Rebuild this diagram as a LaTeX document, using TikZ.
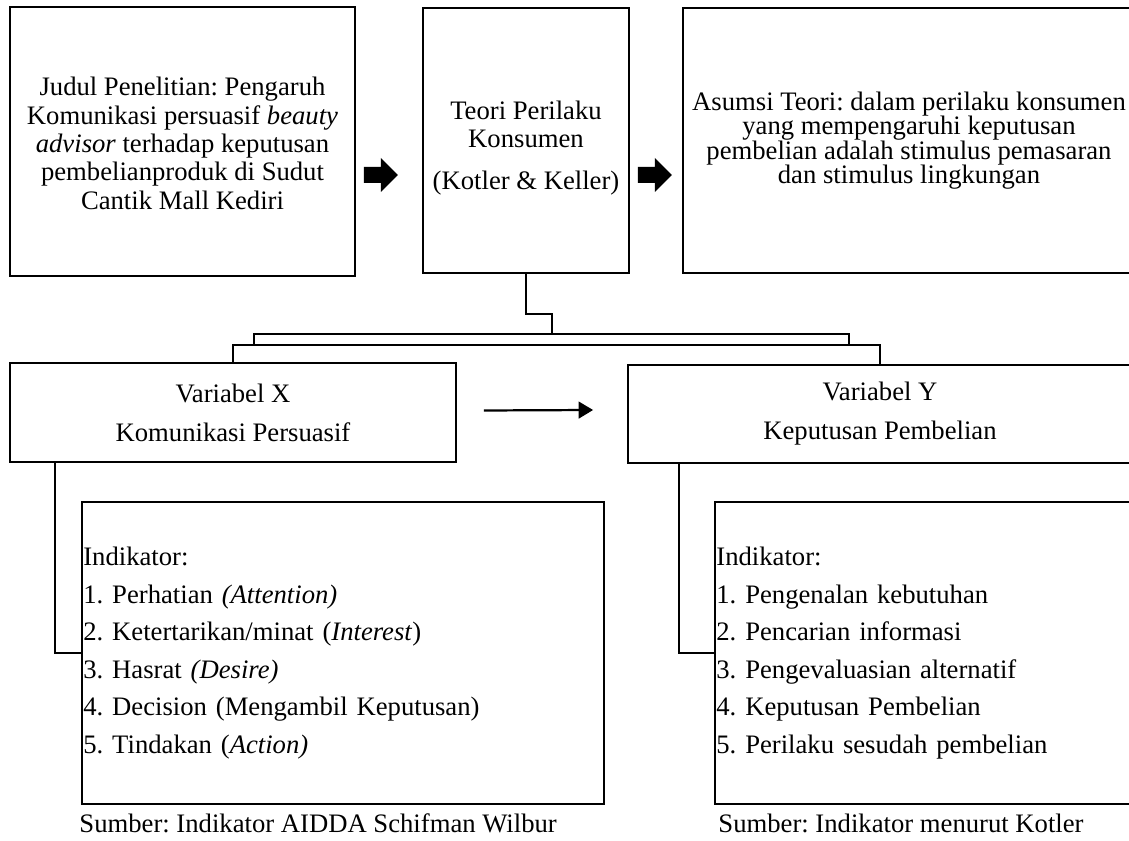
\documentclass[tikz,border=0pt]{standalone}
\usepackage{fontspec}
\setmainfont{Liberation Serif}
\usetikzlibrary{calc,arrows.meta}
\frenchspacing

\tikzset{
    blockarrow/.pic={
        \fill (0,-8) -- (17,-8) -- (17,-17) -- (34,0) -- (17,17) -- (17,8) -- (0,8) -- cycle;
    }
}

\begin{document}
\begin{tikzpicture}[
    x=0.45pt, y=-0.45pt,
    box/.style={rectangle, draw, line width=0.8pt, align=center, inner sep=0pt},
    indbox/.style={rectangle, draw, line width=0.8pt, align=left, inner xsep=0.6pt, inner ysep=0pt,
        minimum height=135.9pt, font=\fontsize{12}{16.9}\selectfont},
    line/.style={line width=0.8pt},
    arrow/.style={-{Triangle[length=6.5pt, width=7.5pt]}, line width=1pt}
]

% Page frame
\path[use as bounding box, clip] (0,0) rectangle (1129,841);

% Top row
\node[box, minimum width=155.25pt, minimum height=121.05pt, font=\fontsize{12}{12.75}\selectfont]
    (judul) at (182.5,141.5) {\rule{0pt}{10pt}Judul Penelitian: Pengaruh\\Komunikasi persuasif \textit{beauty}\\\textit{advisor} terhadap keputusan\\pembelianproduk di Sudut\\Cantik Mall Kediri};
\node[box, minimum width=92.7pt, minimum height=119.25pt, font=\fontsize{12}{12.6}\selectfont]
    (teori) at (526,140.5) {\rule{0pt}{15.5pt}Teori Perilaku\\Konsumen\\[6.3pt](Kotler \& Keller)};
\node[box, minimum width=203.4pt, minimum height=119.25pt, font=\fontsize{12}{11}\selectfont]
    (asumsi) at (909,140.5) {Asumsi Teori: dalam perilaku konsumen\\yang mempengaruhi keputusan\\pembelian adalah stimulus pemasaran\\dan stimulus lingkungan};

% Block arrows
\pic at ($(judul.east)+(8,33.5)$) {blockarrow};
\pic at ($(teori.east)+(8,34.5)$) {blockarrow};

% Variables
\node[box, minimum width=200.7pt, minimum height=44.55pt, font=\fontsize{12}{17.5}\selectfont]
    (varX) at (233,412.5) {Variabel X\\Komunikasi Persuasif};
\node[box, minimum width=226.8pt, minimum height=44.1pt, font=\fontsize{12}{17.5}\selectfont]
    (varY) at (880,414) {Variabel Y\\Keputusan Pembelian};

% Indicators
\node[indbox, text width=233.7pt] (indX) at (343,653) {Indikator:\\
    1. Perhatian \textit{(Attention)}\\
    2. Ketertarikan/minat (\textit{Interest})\\
    3. Hasrat \textit{(Desire)}\\
    4. Decision (Mengambil Keputusan)\\
    5. Tindakan (\textit{Action)}};
\node[indbox, text width=203.5pt] (indY) at (942.5,653) {Indikator:\\
    1. Pengenalan kebutuhan\\
    2. Pencarian informasi\\
    3. Pengevaluasian alternatif\\
    4. Keputusan Pembelian\\
    5. Perilaku sesudah pembelian};

% Sources
\node[anchor=west, inner sep=0pt, font=\fontsize{12}{14}\selectfont] (srcX) at (79,823) {Sumber: Indikator AIDDA Schifman Wilbur};
\node[anchor=west, inner sep=0pt, font=\fontsize{12}{14}\selectfont] (srcY) at (718,823) {Sumber: Indikator menurut Kotler};

% Bracket
\coordinate (stem) at (552,334);
\coordinate (bracketL) at (254,345);
\coordinate (bracketR) at (849,345);
\draw[line] (teori.south) -- ++(0,40) -| (stem);
\draw[line] (bracketL) |- (stem) -| (bracketR);
\draw[line] (varX.north) |- (bracketL) -- (bracketR) -| (varY.north);

% Arrow X to Y
\draw[arrow] ($(varX.east)+(27,-2)$) -- ($(varY.west)+(-34,-4)$);

% Indicator links
\draw[line] ($(varX.south west)+(46,0)$) |- (indX.west);
\draw[line] ($(varY.south west)+(52,0)$) |- (indY.west);

\end{tikzpicture}
\end{document}
